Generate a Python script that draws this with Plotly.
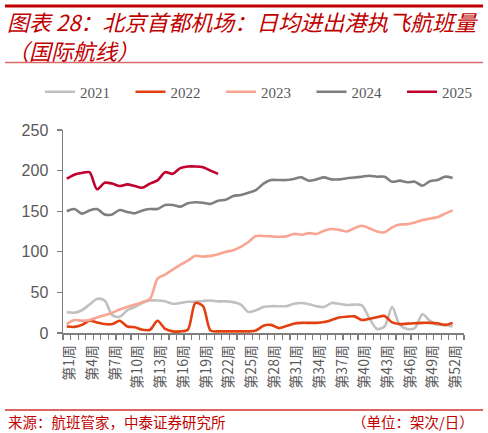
import plotly.graph_objects as go

# ---------------- data ----------------
weeks = [f"第{i}周" for i in range(1, 54)]  # 53 category slots (last one empty)

y2021 = [25.5, 25, 28, 35, 42, 40, 22, 20, 28, 32, 37, 40, 40, 39, 36, 37, 38.5, 38.5, 39.5, 40,
         39, 39, 38, 35, 26, 28, 32, 33, 33, 33, 36, 37, 35.5, 33, 32, 37, 36, 34.5, 35, 34,
         18, 5, 8, 32, 10, 5, 6, 23, 15, 10, 10, 8]
y2022 = [8, 7.5, 10, 15, 13, 11, 11, 15, 8, 7, 4, 4, 15, 5, 2, 2, 4, 37, 33, 3,
         2, 2, 2, 2, 2, 3, 9, 10, 6, 8.5, 11.5, 12.5, 12.5, 12.5, 13.5, 16, 19, 20, 20.5, 16,
         17.5, 19.5, 21, 13, 11, 11.5, 12, 12.5, 12.5, 12, 10, 12.5]
y2023 = [11, 16, 15, 16, 19, 22, 25, 29, 32, 35, 38, 42, 67, 72, 78, 84, 89, 95, 94, 95,
         97, 100, 102, 106, 112, 119.5, 119.5, 119, 118.6, 119, 122, 121, 123, 122, 126, 128, 127, 125, 129, 132,
         129, 125, 124, 130, 133.5, 134, 136, 139, 141, 142.5, 147, 151]
y2024 = [150, 152.7, 147, 151, 152.7, 146, 146, 151.5, 149, 147.4, 151, 152.7, 152.7, 157.6, 157.6, 155.6, 159.7, 161, 160.5, 159,
         163, 164, 168.7, 170, 172.8, 176, 184, 188.4, 188.4, 188.4, 189.7, 191.7, 187.6, 189.2, 191.7, 189.2, 189.2, 190.5, 191.5, 192.5,
         193.7, 192.5, 192.5, 186.3, 187.6, 185.6, 186.3, 181.4, 187, 188.4, 192.5, 191]
y2025 = [190, 195, 197, 198, 177, 185, 184, 181, 183, 181, 179, 184, 188, 198, 196, 203, 205, 205, 204, 200, 196]

series_names = ["2021", "2022", "2023", "2024", "2025"]
series_values = [y2021, y2022, y2023, y2024, y2025]
series_colors = ["#C0C0C0", "#E2400E", "#F9A592", "#7F7F7F", "#C0002F"]

tick_labels = [w if i % 3 == 0 else "" for i, w in enumerate(weeks)]

title_lines = ["图表 28：北京首都机场：日均进出港执飞航班量", "（国际航线）"]
source_text = "来源：航班管家，中泰证券研究所"
unit_text = "（单位：架次/日）"

# ---------------- layout helpers (pixel -> paper) ----------------
W, H = 488, 433
L, R, T, B = 63, 464, 130, 333


def px(x):
    return (x - L) / (R - L)


def py(y):
    return (B - y) / (B - T)


fig = go.Figure()
for name, vals, col in zip(series_names, series_values, series_colors):
    fig.add_trace(go.Scatter(
        x=weeks[:len(vals)], y=vals, name=name, mode="lines",
        line=dict(color=col, width=2.6, shape="spline", smoothing=0.8),
        hoverinfo="skip",
    ))

AX = "#7F7F7F"
LAB = "#595959"
RED = "#C00000"

fig.update_layout(
    width=W, height=H,
    margin=dict(l=L, r=W - R, t=T, b=H - B, autoexpand=False),
    paper_bgcolor="white", plot_bgcolor="white",
    showlegend=True,
    legend=dict(
        orientation="h", x=px(40), xanchor="left", y=py(92), yanchor="middle",
        font=dict(family="Liberation Serif", size=15, color=LAB),
        entrywidth=45.5, entrywidthmode="pixels",
        bgcolor="rgba(0,0,0,0)",
    ),
    xaxis=dict(
        type="category", categoryorder="array", categoryarray=weeks,
        range=[-0.5, len(weeks) - 0.5],
        tickmode="array", tickvals=weeks, ticktext=tick_labels,
        tickson="boundaries", ticks="outside", ticklen=5, tickcolor=AX, tickwidth=1.2,
        tickangle=-90, ticklabelstandoff=5, ticklabelshift=3,
        tickfont=dict(family="Noto Sans CJK SC", size=14, color=LAB),
        showline=True, linecolor=AX, linewidth=1.5,
        showgrid=False, zeroline=False, fixedrange=True,
    ),
    yaxis=dict(
        range=[0, 250], tickmode="linear", tick0=0, dtick=50,
        ticks="outside", ticklen=5, tickcolor=AX, tickwidth=1.2,
        ticklabelstandoff=5,
        tickfont=dict(family="Liberation Sans", size=16, color=LAB),
        showline=True, linecolor=AX, linewidth=1.5,
        showgrid=False, zeroline=False, fixedrange=True,
    ),
    shapes=[
        dict(type="line", xref="paper", yref="paper", x0=px(5), x1=px(483), y0=py(6), y1=py(6),
             line=dict(color=RED, width=3)),
        dict(type="line", xref="paper", yref="paper", x0=px(5), x1=px(483), y0=py(62.5), y1=py(62.5),
             line=dict(color="#DB6B6B", width=1.5)),
        dict(type="line", xref="paper", yref="paper", x0=px(5), x1=px(483), y0=py(410), y1=py(410),
             line=dict(color="#D03030", width=1.3)),
    ],
    annotations=[
        dict(text="<br>".join(title_lines), xref="paper", yref="paper", x=px(5), y=py(35),
             xanchor="left", yanchor="middle", align="left", showarrow=False,
             font=dict(family="Noto Sans CJK SC", size=22, color=RED, style="italic")),
        dict(text=source_text, xref="paper", yref="paper", x=px(6), y=py(421),
             xanchor="left", yanchor="middle", showarrow=False,
             font=dict(family="Noto Sans CJK SC", size=14.5, color=RED)),
        dict(text=unit_text, xref="paper", yref="paper", x=px(476), y=py(421),
             xanchor="right", yanchor="middle", showarrow=False,
             font=dict(family="Noto Sans CJK SC", size=14.5, color=RED)),
    ],
)

fig.write_html(
    "out.html",
    config={"displayModeBar": False, "staticPlot": True},
    post_script="document.body.style.margin='0';document.body.style.padding='0';"
                "document.body.style.overflow='hidden';",
)
